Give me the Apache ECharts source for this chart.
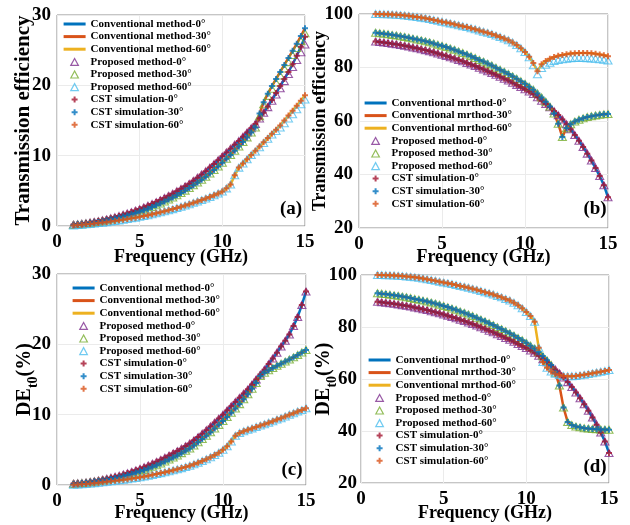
<!DOCTYPE html>
<html>
<head>
<meta charset="utf-8">
<script src="https://cdn.jsdelivr.net/npm/echarts@6/dist/echarts.min.js"></script>
<style>
  html, body { margin: 0; padding: 0; background: #fff; }
  #myChart { width: 630px; height: 525px; }
</style>
</head>
<body>
<div id="myChart"></div>
<script>
// frequency points (GHz)
var freq = [1, 1.25, 1.5, 1.75, 2, 2.25, 2.5, 2.75, 3, 3.25, 3.5, 3.75, 4, 4.25, 4.5, 4.75, 5, 5.25, 5.5, 5.75,
  6, 6.25, 6.5, 6.75, 7, 7.25, 7.5, 7.75, 8, 8.25, 8.5, 8.75, 9, 9.25, 9.5, 9.75, 10, 10.25, 10.5, 10.75,
  11, 11.25, 11.5, 11.75, 12, 12.25, 12.5, 12.75, 13, 13.25, 13.5, 13.75, 14, 14.25, 14.5, 14.75, 15];

// (a) transmission efficiency
var teA0 = [0.2, 0.26, 0.33, 0.41, 0.5, 0.6, 0.7, 0.82, 0.95, 1.1, 1.25, 1.42, 1.6, 1.79, 1.98, 2.19, 2.4, 2.64, 2.88, 3.14,
  3.4, 3.69, 3.98, 4.29, 4.6, 4.94, 5.28, 5.64, 6.0, 6.43, 6.87, 7.33, 7.8, 8.3, 8.82, 9.35, 9.9, 10.45, 11.0, 11.55,
  12.1, 12.7, 13.3, 13.9, 14.5, 15.3, 16.1, 17.0, 17.9, 18.9, 19.9, 20.9, 21.9, 23.0, 24.2, 25.5, 26.9];
var teA30 = [0.15, 0.2, 0.26, 0.33, 0.4, 0.48, 0.57, 0.68, 0.8, 0.93, 1.06, 1.2, 1.35, 1.51, 1.68, 1.86, 2.05, 2.25, 2.46, 2.7,
  2.95, 3.21, 3.48, 3.76, 4.05, 4.36, 4.68, 5.03, 5.4, 5.78, 6.17, 6.58, 7.0, 7.47, 7.96, 8.47, 9.0, 9.55, 10.1, 10.7,
  11.3, 11.95, 12.6, 13.3, 14.0, 16.0, 17.6, 18.8, 19.9, 20.9, 21.9, 22.9, 23.9, 24.9, 25.9, 27.0, 28.1];
var teA60 = [0.08, 0.13, 0.18, 0.24, 0.3, 0.36, 0.42, 0.48, 0.55, 0.63, 0.71, 0.8, 0.9, 0.99, 1.09, 1.19, 1.3, 1.42, 1.54, 1.67,
  1.8, 1.94, 2.09, 2.24, 2.4, 2.57, 2.74, 2.92, 3.1, 3.29, 3.48, 3.69, 3.9, 4.13, 4.37, 4.63, 4.9, 5.35, 5.9, 7.2,
  8.3, 8.9, 9.5, 10.1, 10.7, 11.3, 11.9, 12.5, 13.1, 13.7, 14.3, 15.0, 15.7, 16.4, 17.1, 17.8, 18.6];
var propA0 = [0.2, 0.26, 0.33, 0.41, 0.5, 0.6, 0.7, 0.82, 0.95, 1.1, 1.25, 1.42, 1.6, 1.79, 1.98, 2.19, 2.4, 2.64, 2.88, 3.14,
  3.4, 3.69, 3.98, 4.29, 4.6, 4.94, 5.28, 5.64, 6.0, 6.43, 6.87, 7.33, 7.8, 8.3, 8.82, 9.35, 9.9, 10.45, 11.0, 11.55,
  12.1, 12.7, 13.3, 13.9, 14.5, 15.3, 16.1, 16.9, 17.8, 18.7, 19.6, 20.6, 21.6, 22.6, 23.6, 24.7, 25.8];
var propA30 = [0.15, 0.2, 0.26, 0.33, 0.4, 0.48, 0.57, 0.68, 0.8, 0.93, 1.06, 1.2, 1.35, 1.51, 1.68, 1.86, 2.05, 2.25, 2.46, 2.7,
  2.95, 3.21, 3.48, 3.76, 4.05, 4.36, 4.68, 5.03, 5.4, 5.78, 6.17, 6.58, 7.0, 7.47, 7.96, 8.47, 9.0, 9.55, 10.1, 10.7,
  11.3, 11.95, 12.6, 13.3, 14.0, 15.6, 17.3, 18.5, 19.5, 20.4, 21.4, 22.4, 23.3, 24.3, 25.3, 26.3, 27.4];
var propA60 = [0.08, 0.13, 0.18, 0.24, 0.3, 0.36, 0.42, 0.48, 0.55, 0.63, 0.71, 0.8, 0.9, 0.99, 1.09, 1.19, 1.3, 1.42, 1.54, 1.67,
  1.8, 1.94, 2.09, 2.24, 2.4, 2.57, 2.74, 2.92, 3.1, 3.29, 3.48, 3.69, 3.9, 4.13, 4.37, 4.63, 4.9, 5.35, 5.9, 7.2,
  8.3, 8.9, 9.5, 10.1, 10.6, 11.2, 11.8, 12.4, 13.0, 13.5, 14.0, 14.6, 15.3, 15.9, 16.6, 17.3, 18.0];

// (b) transmission efficiency
var teB0 = [89.7, 89.5, 89.35, 89.15, 88.9, 88.7, 88.4, 88.15, 87.85, 87.5, 87.2, 86.85, 86.5, 86.1, 85.7, 85.25, 84.8, 84.35, 83.85, 83.35,
  82.8, 82.3, 81.7, 81.15, 80.55, 79.9, 79.3, 78.6, 77.95, 77.25, 76.55, 75.8, 75.1, 74.3, 73.5, 72.7, 71.9, 71.0, 70.1, 68.9,
  67.6, 66.4, 65.1, 63.7, 62.2, 60.6, 58.8, 56.9, 54.8, 52.6, 50.3, 47.8, 45.2, 42.4, 39.4, 36.0, 31.5];
var teB30 = [93.0, 92.8, 92.65, 92.45, 92.2, 92.0, 91.7, 91.45, 91.15, 90.8, 90.5, 90.15, 89.8, 89.4, 89.0, 88.55, 88.1, 87.65, 87.1, 86.6,
  86.0, 85.45, 84.85, 84.25, 83.55, 82.85, 82.2, 81.45, 80.75, 79.95, 79.2, 78.4, 77.6, 76.7, 75.8, 74.9, 73.9, 72.8, 71.7, 70.3,
  68.8, 67.2, 65.4, 62.8, 59.0, 54.0, 57.3, 58.8, 59.8, 60.5, 61.0, 61.5, 61.8, 62.1, 62.3, 62.5, 62.6];
var teB60 = [100, 99.97, 99.93, 99.87, 99.8, 99.7, 99.6, 99.45, 99.3, 99.1, 98.9, 98.65, 98.4, 98.1, 97.8, 97.45, 97.1, 96.8, 96.5, 96.15,
  95.8, 95.45, 95.1, 94.7, 94.3, 93.85, 93.4, 92.95, 92.5, 91.95, 91.4, 90.8, 90.2, 89.35, 88.4, 87.2, 85.8, 84.0, 81.7, 78.6,
  81.2, 82.4, 83.3, 83.9, 84.4, 84.7, 85.0, 85.2, 85.3, 85.4, 85.4, 85.4, 85.3, 85.1, 84.9, 84.6, 84.2];
var propB60 = [100, 99.97, 99.93, 99.87, 99.8, 99.7, 99.6, 99.45, 99.3, 99.1, 98.9, 98.65, 98.4, 98.1, 97.8, 97.45, 97.1, 96.8, 96.5, 96.15,
  95.8, 95.45, 95.1, 94.7, 94.3, 93.85, 93.4, 92.95, 92.5, 91.95, 91.4, 90.8, 90.2, 89.35, 88.4, 87.2, 85.8, 83.8, 80.8, 77.5,
  79.8, 81.0, 81.8, 82.4, 82.8, 83.1, 83.3, 83.5, 83.6, 83.6, 83.6, 83.5, 83.4, 83.3, 83.1, 82.9, 82.6];

// (c) DE_t0 (%)
var deC0 = [0.2, 0.25, 0.3, 0.37, 0.45, 0.55, 0.65, 0.77, 0.9, 1.04, 1.18, 1.33, 1.5, 1.69, 1.88, 2.09, 2.3, 2.53, 2.77, 3.03,
  3.3, 3.58, 3.88, 4.19, 4.5, 4.83, 5.17, 5.53, 5.9, 6.35, 6.82, 7.3, 7.8, 8.33, 8.88, 9.44, 10.0, 10.6, 11.2, 11.8,
  12.4, 13.0, 13.6, 14.3, 15.0, 15.7, 16.4, 17.2, 18.0, 18.8, 19.7, 20.5, 21.4, 22.6, 23.9, 25.6, 27.5];
var deC30 = [0.15, 0.19, 0.24, 0.31, 0.4, 0.48, 0.56, 0.65, 0.75, 0.87, 0.98, 1.11, 1.25, 1.41, 1.58, 1.76, 1.95, 2.15, 2.36, 2.58,
  2.8, 3.06, 3.33, 3.61, 3.9, 4.21, 4.53, 4.86, 5.2, 5.63, 6.07, 6.53, 7.0, 7.5, 8.02, 8.55, 9.1, 9.68, 10.27, 10.88,
  11.5, 12.2, 12.9, 13.7, 14.5, 15.5, 15.95, 16.3, 16.65, 16.95, 17.25, 17.55, 17.85, 18.15, 18.5, 18.85, 19.2];
var deC60 = [0.05, 0.08, 0.11, 0.15, 0.2, 0.25, 0.31, 0.38, 0.45, 0.52, 0.59, 0.67, 0.75, 0.83, 0.92, 1.01, 1.1, 1.21, 1.32, 1.44,
  1.56, 1.69, 1.82, 1.96, 2.1, 2.25, 2.4, 2.57, 2.75, 2.96, 3.18, 3.42, 3.67, 3.95, 4.25, 4.6, 5.0, 5.5, 6.2, 7.0,
  7.4, 7.65, 7.85, 8.05, 8.25, 8.45, 8.65, 8.85, 9.05, 9.3, 9.5, 9.75, 10.0, 10.2, 10.45, 10.65, 10.9];

// (d) DE_t0 (%)
var deD0 = [89.7, 89.5, 89.35, 89.15, 88.9, 88.7, 88.4, 88.15, 87.85, 87.5, 87.2, 86.85, 86.5, 86.1, 85.7, 85.25, 84.8, 84.35, 83.85, 83.35,
  82.8, 82.3, 81.7, 81.15, 80.55, 79.9, 79.3, 78.6, 77.95, 77.25, 76.55, 75.8, 75.1, 74.3, 73.5, 72.7, 71.9, 71.0, 70.1, 68.9,
  67.6, 66.4, 65.1, 63.7, 62.2, 60.6, 58.8, 56.9, 54.8, 52.6, 50.3, 47.8, 45.2, 42.4, 39.4, 36.0, 31.5];
var deD30 = [93.0, 92.8, 92.65, 92.45, 92.2, 92.0, 91.7, 91.45, 91.15, 90.8, 90.5, 90.15, 89.8, 89.4, 89.0, 88.55, 88.1, 87.65, 87.1, 86.6,
  86.0, 85.45, 84.85, 84.25, 83.55, 82.85, 82.2, 81.45, 80.75, 79.95, 79.2, 78.4, 77.6, 76.7, 75.8, 74.9, 73.9, 72.8, 71.7, 70.3,
  68.8, 67.2, 65.4, 62.4, 57.5, 49.0, 43.5, 42.3, 41.7, 41.4, 41.1, 40.95, 40.8, 40.7, 40.6, 40.55, 40.5];
var deD60 = [100, 99.97, 99.93, 99.87, 99.8, 99.7, 99.6, 99.45, 99.3, 99.1, 98.9, 98.65, 98.4, 98.1, 97.8, 97.45, 97.1, 96.8, 96.5, 96.15,
  95.8, 95.45, 95.1, 94.7, 94.3, 93.85, 93.4, 92.95, 92.5, 91.95, 91.4, 90.8, 90.2, 89.35, 88.4, 87.2, 85.8, 84.2, 82.0, 72.0,
  66.5, 64.3, 62.9, 62.0, 61.5, 61.2, 61.1, 61.1, 61.2, 61.4, 61.6, 61.9, 62.2, 62.5, 62.8, 63.1, 63.5];

var convNames1 = ['Conventional method-0°', 'Conventional method-30°', 'Conventional method-60°'];
var convNames2 = ['Conventional mrthod-0°', 'Conventional mrthod-30°', 'Conventional mrthod-60°'];
var propNames = ['Proposed method-0°', 'Proposed method-30°', 'Proposed method-60°'];
var cstNames = ['CST simulation-0°', 'CST simulation-30°', 'CST simulation-60°'];
var panelTags = ['(a)', '(b)', '(c)', '(d)'];

var lineColors = ['#0072BD', '#D95319', '#EDB120'];
var propColors = ['#7E2F8E', '#77AC30', '#4DBEEE'];
var cstColors = ['#A2142F', '#0072BD', '#D95319'];

var FONT = '"Liberation Serif", "Times New Roman", serif';
var crossPath = 'path://M2,0H4V2H6V4H4V6H2V4H0V2H2Z';
// legend icons share a 22x8 box so they are not stretched
var lineIcon = 'path://M0,0M22,8M0,2.5H22V5.5H0Z';
var triIcon = 'path://M0,0M22,8M7.2,7.6L11,0.6L14.8,7.6Z';
var crossIcon = 'path://M0,0M22,8M10,1H12V3H14V5H12V7H10V5H8V3H10Z';

function pairs(arr) {
  return freq.map(function (f, i) { return [f, arr[i]]; });
}

function panelSeries(gi, convNames, conv, prop, cst) {
  var out = [];
  for (var k = 0; k < 3; k++) {
    out.push({
      type: 'line', name: convNames[k], xAxisIndex: gi, yAxisIndex: gi,
      data: pairs(conv[k]), symbol: 'none', showSymbol: false, silent: true, z: 2,
      lineStyle: { color: lineColors[k], width: 2.5 }, itemStyle: { color: lineColors[k] }
    });
  }
  for (var k = 0; k < 3; k++) {
    out.push({
      type: 'scatter', name: propNames[k], xAxisIndex: gi, yAxisIndex: gi,
      data: pairs(prop[k]), symbol: 'triangle', symbolSize: [8, 7], silent: true, z: 3,
      itemStyle: { color: 'rgba(0,0,0,0)', borderColor: propColors[k], borderWidth: 1.1 }
    });
  }
  for (var k = 0; k < 3; k++) {
    out.push({
      type: 'scatter', name: cstNames[k], xAxisIndex: gi, yAxisIndex: gi,
      data: pairs(cst[k]), symbol: crossPath, symbolSize: 6, silent: true, z: 4,
      itemStyle: { color: cstColors[k] }
    });
  }
  return out;
}

function legendItems(convNames) {
  var items = [];
  for (var k = 0; k < 3; k++) {
    items.push({ name: convNames[k], icon: lineIcon, itemStyle: { color: lineColors[k], borderWidth: 0 } });
  }
  for (var k = 0; k < 3; k++) {
    items.push({ name: propNames[k], icon: triIcon,
      itemStyle: { color: 'rgba(0,0,0,0)', borderColor: propColors[k], borderWidth: 1.2 } });
  }
  for (var k = 0; k < 3; k++) {
    items.push({ name: cstNames[k], icon: crossIcon, itemStyle: { color: cstColors[k], borderWidth: 0 } });
  }
  return items;
}

var grids = [
  { left: 57, top: 15, width: 248, height: 211 },
  { left: 359, top: 14, width: 249, height: 214 },
  { left: 57, top: 274, width: 249, height: 211 },
  { left: 361, top: 275, width: 248, height: 208 }
];
var legendPos = [[63, 18], [364, 97], [72, 282], [368, 354]];
var xNameGap = [22, 20, 19, 21];
var yRange = [[0, 30, 10], [20, 100, 20], [0, 30, 10], [20, 100, 20]];
var tagPos = [[291, 209], [595, 209], [292, 470], [595, 467]];

var tickLabel = { fontFamily: FONT, fontWeight: 'bold', fontSize: 19, color: '#000' };
var deName = '{m|DE}{s|t0}{m|(%)}';
var deRich = {
  m: { fontFamily: FONT, fontWeight: 'bold', fontSize: 20, lineHeight: 30, color: '#000' },
  s: { fontFamily: FONT, fontWeight: 'bold', fontSize: 14, lineHeight: 14, verticalAlign: 'bottom', color: '#000' }
};
var yNames = ['Transmission efficiency', 'Transmission efficiency', deName, deName];
var yNameGap = [23, 30, 17, 22];
var yNameSize = [21, 18, 20, 20];

var myChart = echarts.init(document.getElementById('myChart'));

var option = {
  animation: false,
  backgroundColor: '#fff',
  grid: grids.map(function (g) {
    return Object.assign({ show: true, borderColor: '#8c8c8c', borderWidth: 1, backgroundColor: 'transparent',
      containLabel: false, outerBoundsMode: 'none' }, g);
  }),
  xAxis: grids.map(function (g, i) {
    return {
      type: 'value', gridIndex: i, min: 0, max: 15, interval: 5,
      name: 'Frequency (GHz)', nameLocation: 'middle', nameGap: xNameGap[i], nameMoveOverlap: false,
      nameTextStyle: { fontFamily: FONT, fontWeight: 'bold', fontSize: 18, color: '#000' },
      axisLine: { show: false }, axisTick: { show: false },
      axisLabel: Object.assign({ margin: 7 }, tickLabel),
      splitLine: { show: true, lineStyle: { color: '#ebebeb', width: 1 } }
    };
  }),
  yAxis: grids.map(function (g, i) {
    return {
      type: 'value', gridIndex: i, min: yRange[i][0], max: yRange[i][1], interval: yRange[i][2],
      name: yNames[i], nameLocation: 'middle', nameRotate: 90, nameGap: yNameGap[i], nameMoveOverlap: false,
      nameTextStyle: { fontFamily: FONT, fontWeight: 'bold', fontSize: yNameSize[i], color: '#000',
        rich: i >= 2 ? deRich : undefined },
      axisLine: { show: false }, axisTick: { show: false },
      axisLabel: Object.assign({ margin: i === 3 ? 4 : 6 }, tickLabel),
      splitLine: { show: true, lineStyle: { color: '#ebebeb', width: 1 } }
    };
  }),
  legend: legendPos.map(function (p, i) {
    return {
      orient: 'vertical', left: p[0], top: p[1], padding: 0,
      itemWidth: 22, itemHeight: 8, itemGap: 0.6, selectedMode: false,
      textStyle: { fontFamily: FONT, fontWeight: 'bold', fontSize: 11, color: '#000', lineHeight: 12 },
      data: legendItems(i % 2 === 0 ? convNames1 : convNames2)
    };
  }),
  graphic: tagPos.map(function (p, i) {
    return {
      type: 'text', x: p[0], y: p[1], z: 10,
      style: { text: panelTags[i], font: 'bold 19px ' + FONT, fill: '#000', align: 'center', verticalAlign: 'middle' }
    };
  }),
  series: [].concat(
    panelSeries(0, convNames1, [teA0, teA30, teA60], [propA0, propA30, propA60], [teA0, teA30, teA60]),
    panelSeries(1, convNames2, [teB0, teB30, teB60], [teB0, teB30, propB60], [teB0, teB30, teB60]),
    panelSeries(2, convNames1, [deC0, deC30, deC60], [deC0, deC30, deC60], [deC0, deC30, deC60]),
    panelSeries(3, convNames2, [deD0, deD30, deD60], [deD0, deD30, deD60], [deD0, deD30, deD60])
  )
};

myChart.setOption(option);
</script>
</body>
</html>
